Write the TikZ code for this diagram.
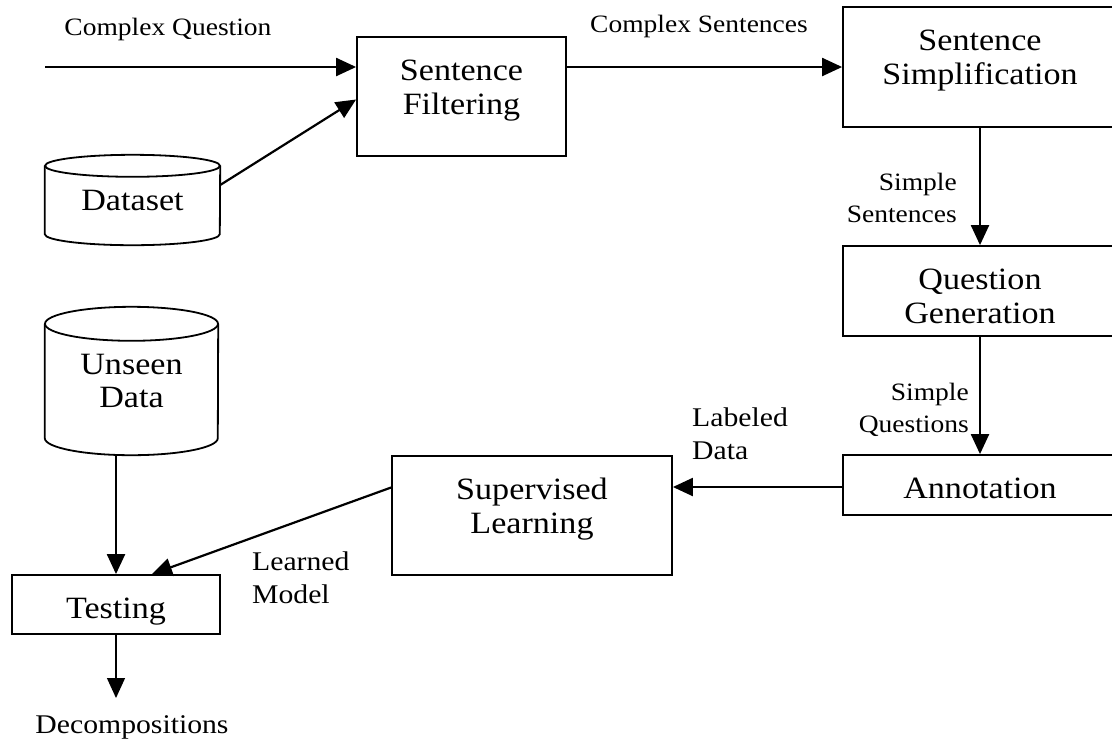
\documentclass[tikz,border=0pt]{standalone}
\usepackage{fontspec}
\setmainfont{Liberation Serif}[FakeStretch=1.1]
\usetikzlibrary{arrows.meta}

\newcommand{\stagetext}[3]{\parbox[c][#2][t]{#1}{\centering\vspace*{20pt}\strut#3}}

\tikzset{
  stage/.style={draw, line width=1.8pt, inner sep=0pt, font=\fontsize{31}{34}\selectfont},
  store/.style={inner sep=0pt, align=center, font=\fontsize{31}{33}\selectfont},
  flow/.style={-{Triangle[length=20pt,width=18pt]}, line width=2.2pt},
  note/.style={inner sep=0pt, font=\fontsize{25}{32}\selectfont},
  bignote/.style={inner sep=0pt, font=\fontsize{27}{33}\selectfont}
}

\begin{document}
\begin{tikzpicture}[x=1pt,y=-1pt]
        \useasboundingbox (0,0) rectangle (1112,740);
        \clip (0,0) rectangle (1112,740);

        % Stages
        \node[stage] (filt) at (461.5,96.5) {\stagetext{209pt}{119pt}{Sentence\\Filtering}};
        \node[stage] (simp) at (980,67) {\stagetext{274pt}{120pt}{Sentence\\Simplification}};
        \node[stage] (qgen) at (980,291) {\stagetext{274pt}{90pt}{Question\\Generation}};
        \node[stage] (annot) at (980,485) {\stagetext{274pt}{60pt}{Annotation}};
        \node[stage] (sup) at (532,515.5) {\stagetext{280pt}{119pt}{Supervised\\Learning}};
        \node[stage] (test) at (116,604.5) {\stagetext{208pt}{59pt}{Testing}};

        % Data stores
        \node[store, minimum width=175pt, minimum height=90pt] (data) at (132.5,200) {Dataset};
        \node[store, minimum width=173pt, minimum height=148pt] (unseen) at (131.5,381) {Unseen\\Data};
        \foreach \n/\rx/\ry in {data/87.5/11, unseen/86.5/17}{
        \draw[line width=1.8pt] ([yshift=-\ry pt]\n.north) ellipse [x radius=\rx pt, y radius=\ry pt];
        \draw[line width=1.8pt] ([yshift=-\ry pt]\n.north west) -- ([yshift=\ry pt]\n.south west)
            arc[start angle=180, end angle=360, x radius=\rx pt, y radius=\ry pt] -- ([yshift=-\ry pt]\n.north east);
        }

        % Labels
        \node[note, anchor=base] (cqlbl) at (168,35) {Complex Question};
        \node[note, anchor=base] (cslbl) at (699,32) {Complex Sentences};
        \node[note, align=right, anchor=north east] (sslbl) at (957,173) {Simple\\Sentences};
        \node[note, align=right, anchor=north east] (sqlbl) at (969,383) {Simple\\Questions};
        \node[bignote, align=left, anchor=north west] (ldlbl) at (692,408) {Labeled\\Data};
        \node[bignote, align=left, anchor=north west] (lmlbl) at (252,552) {Learned\\Model};
        \node[bignote, anchor=north] (declbl) at (132,715) {Decompositions};

        \coordinate (cq) at (45,67);
        \coordinate (out) at (116,698);

        % Flow
        \draw[flow] (cq) -- (cq -| filt.west);
        \draw[flow] ([yshift=15pt]data.east) -- ([yshift=-3pt]filt.west);
        \draw[flow] (simp.west -| filt.east) -- (simp.west);
        \draw[flow] (simp.south) -- (qgen.north);
        \draw[flow] (qgen.south) -- (annot.north);
        \draw[flow] ([yshift=-2pt]annot.west) -- ([yshift=-2pt]annot.west -| sup.east);
        \draw[flow] ([yshift=28pt]sup.west) -- ([xshift=36pt]test.north);
        \draw[flow] (unseen.south -| test.north) -- (test.north);
        \draw[flow, line width=1.3pt] (test.south) -- (out);
\end{tikzpicture}
\end{document}
